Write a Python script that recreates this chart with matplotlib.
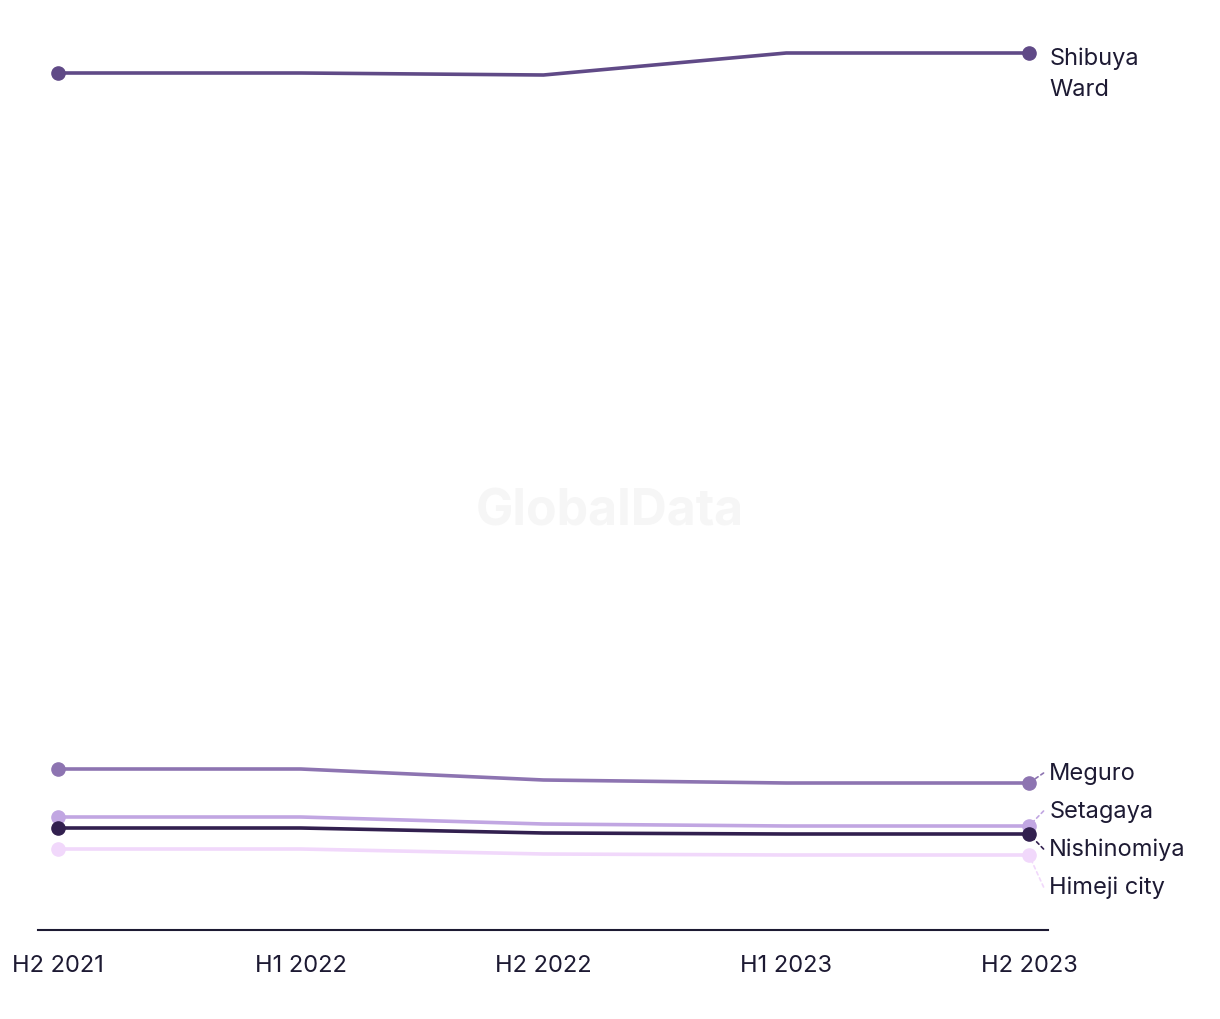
import matplotlib
matplotlib.use("Agg")
import matplotlib.pyplot as plt

periods = ["H2 2021", "H1 2022", "H2 2022", "H1 2023", "H2 2023"]

shibuya = [85.7, 85.7, 85.5, 87.7, 87.7]
meguro = [16.1, 16.1, 15.0, 14.7, 14.7]
setagaya = [11.3, 11.3, 10.6, 10.4, 10.4]
nishinomiya = [10.2, 10.2, 9.7, 9.6, 9.6]
himeji = [8.1, 8.1, 7.6, 7.5, 7.5]

names = ["Shibuya\nWard", "Meguro", "Setagaya", "Nishinomiya", "Himeji city"]
colors = ["#604a87", "#8d74b1", "#c1a6e2", "#32204f", "#f1d8fb"]
# label positions (value units) for the right-hand labels
label_y = [85.7, 15.7, 11.9, 8.1, 4.3]

text_color = "#1d1a33"
plt.rcParams["font.family"] = ["Inter", "DejaVu Sans"]

fig = plt.figure(figsize=(12.2, 10.2), dpi=100)
ax = fig.add_axes([38 / 1220, 89 / 1020, 1010 / 1220, 889 / 1020])

series = [shibuya, meguro, setagaya, nishinomiya, himeji]
x = list(range(len(periods)))
# draw back to front so the dark line sits over the light ones
order = [4, 2, 1, 3, 0]
for i in order:
    ax.plot(x, series[i], color=colors[i], lw=2.6, solid_capstyle="round",
            zorder=2 + i)
    ax.plot([x[0], x[-1]], [series[i][0], series[i][-1]], "o", ms=9.5,
            color=colors[i], zorder=2 + i, linestyle="none")

for i, name in enumerate(names):
    yv = series[i][-1]
    ty = label_y[i]
    ax.text(4.083, ty, name, ha="left", va="center", fontsize=17,
            color=text_color, linespacing=1.5)
    if i > 0:
        ax.annotate("", xy=(4.0, yv), xytext=(4.06, ty),
                    arrowprops=dict(arrowstyle="-", color=colors[i], lw=1.2,
                                    linestyle=(0, (2, 2)), shrinkA=0, shrinkB=5))

fig.text(0.5, 1 - 512 / 1020, "GlobalData", ha="center", va="center",
         fontsize=36, fontweight="bold", color="#f6f6f6", zorder=0)

ax.set_xlim(-20 / 242.75, 4 + 19 / 242.75)
ax.set_ylim(0, 88.9)
ax.set_xticks(x)
ax.set_xticklabels(periods, fontsize=17, color=text_color)
ax.tick_params(axis="x", length=0, pad=17)
ax.set_yticks([])
for side in ["top", "right", "left"]:
    ax.spines[side].set_visible(False)
ax.spines["bottom"].set_color(text_color)
ax.spines["bottom"].set_linewidth(1.5)

fig.savefig("out.png", dpi=100, facecolor="white")
